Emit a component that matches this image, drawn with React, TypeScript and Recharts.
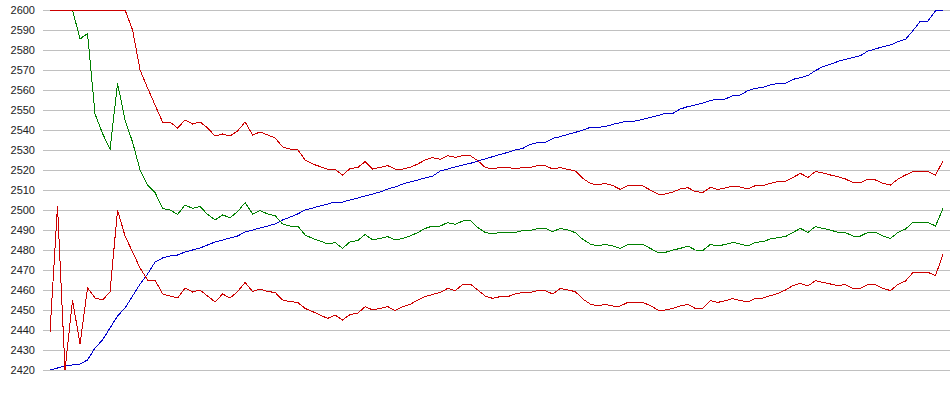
import { LineChart, Line, XAxis, YAxis, CartesianGrid } from 'recharts';

const Y_TICKS = [
  2420, 2430, 2440, 2450, 2460, 2470, 2480, 2490, 2500, 2510,
  2520, 2530, 2540, 2550, 2560, 2570, 2580, 2590, 2600,
];

const PRICE = [
  2420, 2421, 2422, 2422.5, 2423, 2425, 2431, 2435, 2441, 2447,
  2451, 2457, 2463, 2468, 2474, 2476, 2477, 2477.5, 2479, 2480,
  2481, 2482.5, 2484, 2485, 2486, 2487, 2489, 2490, 2491, 2492,
  2493, 2495, 2496.5, 2498, 2500, 2501, 2502, 2503, 2504, 2504,
  2505, 2506, 2507, 2508, 2509, 2510.5, 2511.5, 2513, 2514, 2515,
  2516, 2517, 2519.5, 2520.5, 2521.5, 2522.5, 2523.3, 2524.5, 2525.5, 2526.7,
  2527.8, 2528.8, 2530, 2530.8, 2532.8, 2533.7, 2533.7, 2535.8, 2536.7, 2537.8,
  2538.8, 2540, 2541.3, 2541.3, 2541.7, 2542.8, 2543.7, 2544.5, 2544.5, 2545.3,
  2546.3, 2547.2, 2548.3, 2548.3, 2550.5, 2551.7, 2552.5, 2553.5, 2554.7, 2555.5,
  2555.5, 2557.2, 2557.5, 2559.7, 2560.8, 2561.3, 2562.5, 2563.3, 2563.3, 2565.3,
  2566.2, 2567.2, 2569.7, 2571.7, 2572.8, 2574.3, 2575.3, 2576.3, 2577.2, 2579.5,
  2580.5, 2581.7, 2582.5, 2584.2, 2585.3, 2589.7, 2594.5, 2594.5, 2599.5, 2600,
];

const UPPER = [
  2600, 2600, 2600, 2600, 2600, 2600, 2600, 2600, 2600, 2600,
  2600, 2590, 2570, 2561, 2552.5, 2544, 2544, 2541, 2545, 2543,
  2544, 2541, 2537, 2538, 2537, 2539.5, 2544, 2537.5, 2539, 2537.5,
  2536, 2531.5, 2530.5, 2530.3, 2525, 2523, 2521.7, 2520.3, 2520.3, 2517.5,
  2520.8, 2521.2, 2524.2, 2520.5, 2521.3, 2522.2, 2520.5, 2520.5, 2521.3, 2523,
  2525, 2526.2, 2525.3, 2527.2, 2526.3, 2527.2, 2527.2, 2524.7, 2521.3, 2520.5,
  2521.3, 2521.3, 2520.5, 2521.3, 2521.3, 2522.2, 2522.2, 2520.5, 2521.2, 2520.3,
  2519.5, 2515.8, 2513.3, 2512.5, 2513.3, 2512.2, 2510.3, 2512.2, 2512.2, 2512,
  2510, 2508, 2508, 2509, 2510.5, 2511.2, 2509.2, 2508.8, 2511.3, 2510.3,
  2511, 2512, 2511.5, 2510.5, 2512.2, 2512.2, 2513.3, 2514.2, 2514.3, 2516.3,
  2518.3, 2516.3, 2519.2, 2518.5, 2517.5, 2516.7, 2515.5, 2513.7, 2513.7, 2515.5,
  2515, 2513.3, 2512.5, 2515.5, 2517.5, 2519.2, 2519.2, 2519.2, 2517.5, 2524.5,
];

const MIDDLE = [
  2600, 2600, 2600, 2600, 2585.5, 2588.3, 2548, 2538.3, 2530.3, 2563.3,
  2545, 2534, 2520, 2512.5, 2508.7, 2500.8, 2500, 2497.8, 2502.5, 2500.8,
  2501.7, 2497.8, 2495, 2497.5, 2496.2, 2499.2, 2503.7, 2498, 2499.7, 2498,
  2497.2, 2493, 2492, 2492, 2487.5, 2485.8, 2484.5, 2483, 2483.7, 2480.8,
  2484.2, 2484.7, 2487.8, 2485, 2485.8, 2486.7, 2485, 2485.8, 2487, 2488.7,
  2490.8, 2492, 2492, 2493.7, 2492.8, 2494.5, 2494.8, 2491.3, 2488.8, 2488,
  2488.8, 2488.8, 2488.8, 2489.7, 2489.7, 2490.8, 2490.8, 2489.2, 2490.8, 2490,
  2488.7, 2485.3, 2483, 2482, 2482.8, 2482, 2480.8, 2482.8, 2482.8, 2482.8,
  2480.8, 2478.8, 2478.8, 2480, 2480.8, 2482, 2480, 2479.8, 2482.8, 2482,
  2482.8, 2483.8, 2483, 2482, 2483.8, 2484.2, 2485.5, 2486.2, 2486.7, 2488.8,
  2490.8, 2488.8, 2491.7, 2490.8, 2490, 2488.8, 2488.7, 2487, 2487, 2488.8,
  2488.8, 2487, 2485.8, 2488.8, 2490.5, 2493.8, 2493.8, 2493.8, 2492, 2500.8,
];

const LOWER = [
  2439, 2502, 2420, 2455, 2433, 2461, 2456, 2455, 2459, 2500,
  2487, 2479, 2471, 2465, 2465, 2458, 2457, 2456, 2461, 2459,
  2460, 2457, 2454, 2458, 2456, 2459.2, 2463.8, 2459.2, 2460.5, 2459.2,
  2458.8, 2455, 2454.2, 2453.8, 2450.8, 2449.2, 2447.5, 2445.8, 2447.5, 2445,
  2447.8, 2448.3, 2451.7, 2450, 2450.8, 2451.7, 2449.7, 2451.7, 2452.8, 2455,
  2456.7, 2457.8, 2458.8, 2460.8, 2459.7, 2462.8, 2463, 2460, 2457, 2455.8,
  2456.7, 2456.7, 2458, 2458.8, 2458.8, 2459.7, 2459.7, 2458, 2460.8, 2460,
  2459.2, 2455.5, 2453, 2452, 2452.8, 2452, 2452, 2453.8, 2453.8, 2453.8,
  2452.2, 2450, 2450, 2450.8, 2452, 2452.8, 2450.8, 2450.8, 2454.7, 2453.8,
  2454.7, 2455.7, 2454.7, 2454, 2455.8, 2456, 2457.2, 2458.2, 2460, 2462.2,
  2463.3, 2462, 2464.7, 2463.8, 2463, 2462.2, 2462.7, 2460.8, 2460.8, 2462.8,
  2462.7, 2460.8, 2459.7, 2462.8, 2464.5, 2468.7, 2468.8, 2468.8, 2467.2, 2477.8,
];

const chartData = PRICE.map((p, i) => ({
  idx: i,
  price: p,
  upper: UPPER[i],
  middle: MIDDLE[i],
  lower: LOWER[i],
}));

export default function App() {
  return (
    <div style={{ position: 'absolute', left: 0, top: 0, background: '#fff' }}>
      <LineChart
        width={950}
        height={395}
        data={chartData}
        margin={{ top: 10, right: 0, bottom: 25, left: 0 }}
      >
        <CartesianGrid vertical={false} stroke="#c0c0c0" shapeRendering="crispEdges" />
        <XAxis dataKey="idx" hide padding={{ left: 7, right: 7 }} />
        <YAxis
          width={43}
          domain={[2420, 2600]}
          ticks={Y_TICKS}
          interval={0}
          axisLine={false}
          tickLine={false}
          tick={{ fontSize: 11, fill: '#222', fontFamily: 'Liberation Sans, Arial, sans-serif' }}
        />
        <Line
          type="linear"
          dataKey="price"
          stroke="#0000cc"
          strokeWidth={1}
          shapeRendering="crispEdges"
          dot={false}
          isAnimationActive={false}
        />
        <Line
          type="linear"
          dataKey="middle"
          stroke="#008000"
          strokeWidth={1}
          shapeRendering="crispEdges"
          dot={false}
          isAnimationActive={false}
        />
        <Line
          type="linear"
          dataKey="lower"
          stroke="#cc0000"
          strokeWidth={1}
          shapeRendering="crispEdges"
          dot={false}
          isAnimationActive={false}
        />
        <Line
          type="linear"
          dataKey="upper"
          stroke="#cc0000"
          strokeWidth={1}
          shapeRendering="crispEdges"
          dot={false}
          isAnimationActive={false}
        />
      </LineChart>
    </div>
  );
}
